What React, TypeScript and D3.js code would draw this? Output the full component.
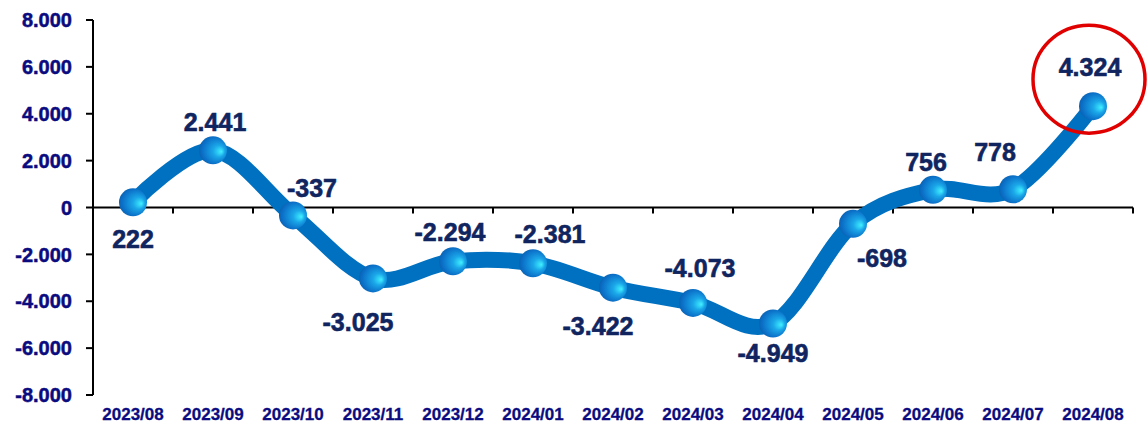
import React from "react";
import * as d3 from "d3";

const months = [
  "2023/08", "2023/09", "2023/10", "2023/11", "2023/12", "2024/01", "2024/02",
  "2024/03", "2024/04", "2024/05", "2024/06", "2024/07", "2024/08",
];
const values = [222, 2441, -337, -3025, -2294, -2381, -3422, -4073, -4949, -698, 756, 778, 4324];
const yTicks = [-8000, -6000, -4000, -2000, 0, 2000, 4000, 6000, 8000];
// label offset from its point (dx, dy to baseline), layout only
const labelOffsets: [number, number][] = [
  [0, 46], [2, -19], [19, -18], [-15, 53], [-3, -20], [17, -20], [-15, 47],
  [7, -26], [0, 39], [29, 43], [-7, -19], [-18, -28], [-3, -30],
];

const W = 1147;
const H = 427;
const FONT = "Liberation Sans, Arial, sans-serif";

const fmt = (v: number) => {
  const s = d3.format(",")(Math.abs(v)).replace(/,/g, ".");
  return (v < 0 ? "-" : "") + s;
};

export default function App() {
  const x = d3.scaleBand().domain(months).range([93, 1133]);
  const y = d3.scaleLinear().domain([-8000, 8000]).range([395, 20]);
  const cx = (m: string) => (x(m) ?? 0) + x.bandwidth() / 2;

  const line = d3
    .line<number>()
    .x((_, i) => cx(months[i]))
    .y((d) => y(d))
    .curve(d3.curveCardinal.tension(0));

  const last = values.length - 1;

  return (
    <svg width={W} height={H} style={{ position: "absolute", left: 0, top: 0 }}>
      <defs>
        <radialGradient id="ball" cx="0.55" cy="0.5" r="0.6" fx="0.8" fy="0.55">
          <stop offset="0" stopColor="#40f0ff" />
          <stop offset="0.35" stopColor="#1aa6e8" />
          <stop offset="0.8" stopColor="#0b70c8" />
          <stop offset="1" stopColor="#0a5ca8" />
        </radialGradient>
      </defs>
      <rect width={W} height={H} fill="#fff" />

      {/* y axis */}
      <line x1={93} x2={93} y1={y(8000)} y2={y(-8000)} stroke="#000" strokeWidth={2} />
      {yTicks.map((t) => (
        <g key={t}>
          <line x1={86} x2={93} y1={y(t)} y2={y(t)} stroke="#000" strokeWidth={2} />
          <text
            x={72}
            y={y(t)}
            dy="0.36em"
            textAnchor="end"
            fontFamily={FONT}
            fontWeight="bold"
            fontSize={20}
            fill="#0b0b80"
            stroke="#0b0b80"
            strokeWidth={0.5}
          >
            {fmt(t)}
          </text>
        </g>
      ))}

      {/* x axis on zero */}
      <line x1={93} x2={1133} y1={y(0)} y2={y(0)} stroke="#000" strokeWidth={2} />
      {months.map((m) => (
        <line
          key={m}
          x1={(x(m) ?? 0) + x.bandwidth()}
          x2={(x(m) ?? 0) + x.bandwidth()}
          y1={y(0)}
          y2={y(0) + 6}
          stroke="#000"
          strokeWidth={2}
        />
      ))}
      {months.map((m) => (
        <text
          key={m}
          x={cx(m)}
          y={420}
          textAnchor="middle"
          fontFamily={FONT}
          fontWeight="bold"
          fontSize={17}
          fill="#0b0b80"
          stroke="#0b0b80"
          strokeWidth={0.3}
        >
          {m}
        </text>
      ))}

      <path d={line(values) ?? ""} fill="none" stroke="#0070c0" strokeWidth={16} strokeLinejoin="round" />

      {values.map((v, i) => (
        <circle key={i} cx={cx(months[i])} cy={y(v)} r={14} fill="url(#ball)" />
      ))}

      {values.map((v, i) => {
        const [dx, dy] = labelOffsets[i];
        return (
          <text
            key={i}
            x={cx(months[i]) + dx}
            y={y(v) + dy}
            textAnchor="middle"
            fontFamily={FONT}
            fontWeight="bold"
            fontSize={25}
            fill="#10255f"
            stroke="#10255f"
            strokeWidth={0.6}
          >
            {fmt(v)}
          </text>
        );
      })}

      <ellipse
        cx={cx(months[last]) - 4}
        cy={y(values[last]) - 27}
        rx={56}
        ry={54}
        fill="none"
        stroke="#e00000"
        strokeWidth={3.5}
      />
    </svg>
  );
}
